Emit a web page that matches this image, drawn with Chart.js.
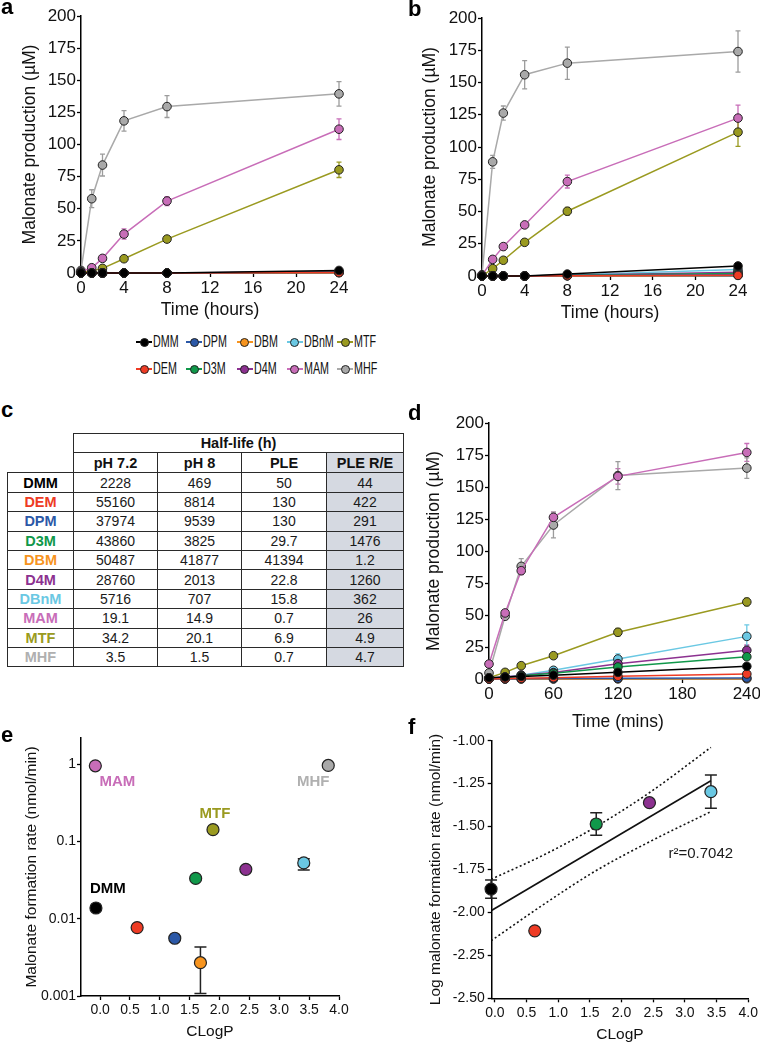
<!DOCTYPE html>
<html><head><meta charset="utf-8">
<script src="https://cdn.jsdelivr.net/npm/chart.js@4.4.1/dist/chart.umd.min.js"></script>
<style>
html,body{margin:0;padding:0;background:#fff;overflow:hidden;width:760px;height:1042px;}
body{position:relative;font-family:'Liberation Sans',Arial,Helvetica,sans-serif;color:#111;}
canvas{position:absolute;}
.lab{position:absolute;font-weight:bold;font-size:22px;line-height:22px;color:#000;}
.item{position:absolute;height:18px;display:flex;align-items:center;}
.mk{position:relative;width:16px;height:18px;flex:none;}
.mk .ln{position:absolute;left:0;right:0;top:8px;height:2px;}
.mk .dot{position:absolute;left:3.5px;top:4.5px;width:7px;height:7px;border:1px solid #222;border-radius:50%;}
.lt{font-size:16px;transform:scaleX(0.67);transform-origin:left center;margin-left:1px;white-space:nowrap;color:#111;}
#tbl{position:absolute;left:7px;top:433px;border-collapse:collapse;table-layout:fixed;font-size:14px;color:#1a1a1a;}
#tbl td{border:1.5px solid #2a2a2a;text-align:center;padding:0;height:18.4px;line-height:16px;}
#tbl td.corner{border-top:none;border-left:none;}
#tbl td.hd{font-weight:bold;font-size:14.5px;color:#111;}
#tbl td.rl{font-weight:bold;font-size:14.5px;}
#tbl td.sh{background:#d5d9e1;}
</style>
</head><body>
<canvas id="cA" width="380" height="330" style="left:0;top:0"></canvas>
<canvas id="cB" width="380" height="330" style="left:380px;top:0"></canvas>
<canvas id="cD" width="342" height="335" style="left:420px;top:400px"></canvas>
<canvas id="cE" width="380" height="342" style="left:0;top:700px"></canvas>
<canvas id="cF" width="380" height="342" style="left:380px;top:700px"></canvas>
<div class="lab" style="left:1px;top:-4px">a</div>
<div class="lab" style="left:408px;top:-2px">b</div>
<div class="lab" style="left:1px;top:399px">c</div>
<div class="lab" style="left:408px;top:402px">d</div>
<div class="lab" style="left:1px;top:724px">e</div>
<div class="lab" style="left:408px;top:716px">f</div>
<div id="legend"></div>
<table id="tbl"></table>
<script>
// ---------- DATA ----------
const names  = ['DMM','DEM','DPM','D3M','DBM','D4M','DBnM','MAM','MTF','MHF'];
const colors = ['#000000','#ee3b24','#2b58a7','#10984a','#f7941e','#8c3190','#6ac8e3','#c86db8','#9a9a20','#a9a9a9'];
const legendRow1 = ['DMM','DPM','DBM','DBnM','MTF'];
const legendRow2 = ['DEM','D3M','D4M','MAM','MHF'];

// Panel a (hours)
const timesH = [0,1,2,4,8,24];
const xTicksH = [0,4,8,12,16,20,24];
const yTicksConc = [0,25,50,75,100,125,150,175,200];
const a_DMM  = [0,0,0,0,0,2];
const a_DEM  = [0,0,0,0,0,0.3];
const a_DPM  = [0,0,0,0,0,0.5];
const a_D3M  = [0,0,0,0,0,0.5];
const a_DBM  = [0,0,0,0,0,0.3];
const a_D4M  = [0,0,0,0,0,1];
const a_DBnM = [0,0,0,0,0,0.8];
const a_MAM  = [1,4.1,11.4,30.3,56,111.9];
const a_MTF  = [0.5,1.5,3.6,11.1,26.4,80.3];
const a_MHF  = [2,57.8,84,118.4,129.5,139.4];
const a_MAM_err = [0,1,1.5,4,3.5,8];
const a_MTF_err = [0,0.5,0.5,1,1.5,6];
const a_MHF_err = [0,7,8.5,8,8.5,9.5];

// Panel b (hours)
const b_DMM  = [0,0,0,0,1.5,7.8];
const b_DEM  = [0,0,0,0,0.2,0.5];
const b_DPM  = [0,0,0,0,0.3,1];
const b_D3M  = [0,0,0,0,0.5,2];
const b_DBM  = [0,0,0,0,0.2,0.5];
const b_D4M  = [0,0,0,0,0.5,3];
const b_DBnM = [0,0,0,0,0.8,5];
const b_MAM  = [0.5,12.9,22.8,39.6,73.2,122.4];
const b_MTF  = [0,5.7,12.2,26.1,50.2,111.5];
const b_MHF  = [1,88.5,126.3,156,165,174];
const b_MAM_err = [0,1,1.5,2,5,10];
const b_MTF_err = [0,1,1,1.5,3,11];
const b_MHF_err = [0,5,5.5,11,12.5,16];

// Panel d (minutes)
const timesM = [0,15,30,60,120,240];
const xTicksM = [0,60,120,180,240];
const d_DMM  = [1,1.5,2,3,5.2,9.9];
const d_DEM  = [0,0.3,0.5,1,2.1,3.9];
const d_DPM  = [0,0,0.2,0.3,0.5,0.8];
const d_D3M  = [0.3,1.2,2.5,4.5,9.4,17.4];
const d_DBM  = [0,0,0,0,0.1,0.2];
const d_D4M  = [0.5,1.5,3,5,12,22.4];
const d_DBnM = [0.5,1.5,3,6.8,15.6,33.3];
const d_MAM  = [11.7,51.6,84.6,126.3,158.3,177];
const d_MTF  = [1,5.2,10.4,18.2,36.5,60.2];
const d_MHF  = [4.7,49,88,120.3,158.9,164.8];
const d_MAM_err  = [1,2,3,4,6,7];
const d_MHF_err  = [1,2,6,10,11,8];
const d_MTF_err  = [0.5,1,1,1,3,3];
const d_DBnM_err = [0,0.5,0.5,1,4,9];
const d_D4M_err  = [0,0,0,1,2,4];
const d_D3M_err  = [0,0,0,0.5,1,1.5];

// Table c
const tblNames = ['DMM','DEM','DPM','D3M','DBM','D4M','DBnM','MAM','MTF','MHF'];
const tblPh72  = ['2228','55160','37974','43860','50487','28760','5716','19.1','34.2','3.5'];
const tblPh8   = ['469','8814','9539','3825','41877','2013','707','14.9','20.1','1.5'];
const tblPLE   = ['50','130','130','29.7','41394','22.8','15.8','0.7','6.9','0.7'];
const tblPLERE = ['44','422','291','1476','1.2','1260','362','26','4.9','4.7'];
const tblHeads = ['pH 7.2','pH 8','PLE','PLE R/E'];

// Panel e
const eNames = ['DMM','DEM','DPM','D3M','DBM','D4M','DBnM','MAM','MTF','MHF'];
const eClogP = [-0.07,0.62,1.25,1.60,1.68,2.44,3.41,-0.08,1.89,3.82];
const eRate  = [0.0138,0.0077,0.0056,0.0334,0.0027,0.0437,0.053,0.96,0.143,0.97];
const eErrLo = [null,null,null,null,0.00108,null,0.043,null,null,null];
const eErrHi = [null,null,null,null,0.0043,null,0.060,null,null,null];
const eLabelNames = ['MAM','MTF','MHF','DMM'];
const eYTicks = [0.001,0.01,0.1,1];
const eYTickLabels = ['0.001','0.01','0.1','1'];
const clogpTicks = [0,0.5,1,1.5,2,2.5,3,3.5,4];

// Panel f
const fNames = ['DMM','DEM','D3M','D4M','DBnM'];
const fClogP = [-0.06,0.63,1.60,2.44,3.41];
const fLogRate = [-1.864,-2.107,-1.485,-1.361,-1.297];
const fErr = [0.053,0,0.066,0,0.097];
const fitX = [-0.06,3.41];
const fitY = [-1.99,-1.233];
const bandX = [-0.06,0.8,1.6,2.45,3.41];
const bandUpper = [-1.807,-1.66,-1.50,-1.30,-1.039];
const bandLower = [-2.165,-1.946,-1.756,-1.587,-1.413];
const fYTicks = [-2.5,-2.25,-2.0,-1.75,-1.5,-1.25,-1.0];
const r2Text = 'r\u00B2=0.7042';

// ---------- STYLE / BUILD ----------
const FONT = "'Liberation Sans', Arial, Helvetica, sans-serif";
Chart.defaults.font.family = FONT;
Chart.defaults.color = '#111';
const col = n => colors[names.indexOf(n)];

const seriesA = {DMM:a_DMM,DEM:a_DEM,DPM:a_DPM,D3M:a_D3M,DBM:a_DBM,D4M:a_D4M,DBnM:a_DBnM,MAM:a_MAM,MTF:a_MTF,MHF:a_MHF};
const errA = {MAM:a_MAM_err,MTF:a_MTF_err,MHF:a_MHF_err};
const seriesB = {DMM:b_DMM,DEM:b_DEM,DPM:b_DPM,D3M:b_D3M,DBM:b_DBM,D4M:b_D4M,DBnM:b_DBnM,MAM:b_MAM,MTF:b_MTF,MHF:b_MHF};
const errB = {MAM:b_MAM_err,MTF:b_MTF_err,MHF:b_MHF_err};
const seriesD = {DMM:d_DMM,DEM:d_DEM,DPM:d_DPM,D3M:d_D3M,DBM:d_DBM,D4M:d_D4M,DBnM:d_DBnM,MAM:d_MAM,MTF:d_MTF,MHF:d_MHF};
const errD = {MAM:d_MAM_err,MHF:d_MHF_err,MTF:d_MTF_err,DBnM:d_DBnM_err,D4M:d_D4M_err,D3M:d_D3M_err};

const errorBars = {
  id:'errorBars',
  beforeDatasetsDraw(chart){
    const ctx = chart.ctx;
    chart.data.datasets.forEach((ds,i)=>{
      if(!ds.err && !ds.errLo) return;
      const meta = chart.getDatasetMeta(i);
      const ys = chart.scales[meta.yAxisID];
      ctx.save();
      ctx.strokeStyle = ds.errColor || ds.borderColor;
      ctx.lineWidth = ds.errWidth || 1.3;
      meta.data.forEach((pt,j)=>{
        const y = ds.data[j].y;
        let lo, hi;
        if(ds.err){ const e = ds.err[j]; if(!e) return; lo = y-e; hi = y+e; }
        else { lo = ds.errLo[j]; hi = ds.errHi[j]; if(lo==null) return; }
        const x = pt.x, y1 = ys.getPixelForValue(hi), y2 = ys.getPixelForValue(lo);
        const cw = ds.capW || 2.5;
        ctx.beginPath();
        ctx.moveTo(x,y1); ctx.lineTo(x,y2);
        ctx.moveTo(x-cw,y1); ctx.lineTo(x+cw,y1);
        ctx.moveTo(x-cw,y2); ctx.lineTo(x+cw,y2);
        ctx.stroke();
      });
      ctx.restore();
    });
  }
};

function setTicks(arr){ return s => { s.ticks = arr.map(v=>({value:v})); }; }

function axis(o){
  return {
    type: o.type || 'linear', min:o.min, max:o.max, position:o.position,
    afterBuildTicks: setTicks(o.ticks),
    afterFit: s => { if(o.position==='left') s.width = o.box; else s.height = o.box; },
    grid:{display:true, drawOnChartArea:false, drawTicks:true, tickLength:4, color:'#000', tickColor:'#000', tickWidth:1.3},
    border:{display:true, color:'#000', width:1.5},
    ticks:{font:{size:o.tickSize}, color:'#111', padding:o.tickPad, maxRotation:0, autoSkip:false,
      callback: o.fmt || (v=>String(v))},
    title:{display:true, text:o.title, color:'#111', font:{size:o.titleSize, lineHeight:o.titleLH||1.2},
      padding: o.position==='left' ? {top:o.titlePad, bottom:0} : {top:0, bottom:o.titlePad}}
  };
}

function timeDatasets(times, series, errs){
  return names.map(n => ({
    label:n,
    data: times.map((t,k)=>({x:t, y:series[n][k]})),
    err: errs[n] || null,
    borderColor: col(n), backgroundColor: col(n),
    errColor: n==='MHF' ? '#9c9c9c' : col(n),
    pointBackgroundColor: col(n), pointBorderColor:'#222', pointBorderWidth:1,
    pointRadius:4.3, borderWidth:1.5, tension:0, clip:false
  }));
}

function timeChart(id, times, series, errs, lay){
  new Chart(document.getElementById(id), {
    type:'line',
    data:{datasets: timeDatasets(times, series, errs)},
    options:{
      responsive:false, animation:false, devicePixelRatio:1, events:[],
      layout:{padding:{top:lay.top, right:lay.right, left:0, bottom:0}},
      plugins:{legend:{display:false}, tooltip:{enabled:false}},
      scales:{
        x: axis({position:'bottom', min:0, max:lay.xmax, ticks:lay.xticks, box:lay.xbox, tickSize:17, tickPad:1,
                 title:lay.xtitle, titleSize:17.5, titlePad:lay.xtp}),
        y: axis({position:'left', min:0, max:200, ticks:yTicksConc, box:lay.ybox, tickSize:17, tickPad:1,
                 title:'Malonate production (\u00B5M)', titleSize:17.5, titlePad:lay.ytp})
      }
    },
    plugins:[errorBars]
  });
}

timeChart('cA', timesH, seriesA, errA, {top:16, right:41, xmax:24, xticks:xTicksH, xbox:57, ybox:81, xtitle:'Time (hours)', xtp:9.5, ytp:19.5});
timeChart('cB', timesH, seriesB, errB, {top:18, right:22, xmax:24, xticks:xTicksH, xbox:54, ybox:102, xtitle:'Time (hours)', xtp:6.5, ytp:40});
timeChart('cD', timesM, seriesD, errD, {top:23, right:15, xmax:240, xticks:xTicksM, xbox:56, ybox:69, xtitle:'Time (mins)', xtp:2.8, ytp:3.5});

// Panel e
const eLabelStyle = {MAM:[22,16], MTF:[2,-16], MHF:[-15,16], DMM:[12,-19]};
const eLabels = {
  id:'eLabels',
  afterDatasetsDraw(chart){
    const ctx = chart.ctx, meta = chart.getDatasetMeta(0);
    ctx.save();
    ctx.font = 'bold 15px ' + FONT; ctx.textAlign='center'; ctx.textBaseline='middle';
    eLabelNames.forEach(n=>{
      const i = eNames.indexOf(n), pt = meta.data[i], off = eLabelStyle[n];
      ctx.fillStyle = n==='MHF' ? '#b0b0b0' : col(n);
      ctx.fillText(n, pt.x+off[0], pt.y+off[1]);
    });
    ctx.restore();
  }
};
new Chart(document.getElementById('cE'), {
  type:'scatter',
  data:{datasets:[{
    data: eClogP.map((x,i)=>({x, y:eRate[i]})),
    errLo:eErrLo, errHi:eErrHi, errColor:'#222', errWidth:1.5, capW:6,
    pointBackgroundColor: eNames.map(col), pointBorderColor:'#222', pointBorderWidth:1.2,
    pointRadius:6, clip:false
  }]},
  options:{
    responsive:false, animation:false, devicePixelRatio:1, events:[],
    layout:{padding:{top:38, right:41, left:0, bottom:0}},
    plugins:{legend:{display:false}, tooltip:{enabled:false}},
    scales:{
      x: axis({position:'bottom', min:-0.32, max:4, ticks:clogpTicks, box:46, tickSize:14, tickPad:2,
               title:'CLogP', titleSize:15.5, titleLH:1, titlePad:2.2, fmt:v=>v.toFixed(1)}),
      y: axis({type:'logarithmic', position:'left', min:0.001, max:2.2, ticks:eYTicks, box:81, tickSize:14, tickPad:1,
               title:'Malonate formation rate (nmol/min)', titleSize:15.5, titleLH:1, titlePad:24.2,
               fmt:v=>eYTickLabels[eYTicks.indexOf(v)]})
    }
  },
  plugins:[errorBars, eLabels]
});

// Panel f
const r2Plugin = {
  id:'r2',
  afterDatasetsDraw(chart){
    const ctx = chart.ctx, xs = chart.scales.x, ys = chart.scales.y;
    ctx.save(); ctx.font = '15px ' + FONT; ctx.fillStyle='#1a1a1a';
    ctx.textAlign='center'; ctx.textBaseline='middle';
    ctx.fillText(r2Text, xs.getPixelForValue(3.25), ys.getPixelForValue(-1.66));
    ctx.restore();
  }
};
new Chart(document.getElementById('cF'), {
  type:'scatter',
  data:{datasets:[
    { data: fClogP.map((x,i)=>({x, y:fLogRate[i]})), err:fErr, errColor:'#222', errWidth:1.5, capW:6,
      pointBackgroundColor: fNames.map(col), pointBorderColor:'#222', pointBorderWidth:1.2, pointRadius:6, clip:false },
    { data: fitX.map((x,i)=>({x, y:fitY[i]})), showLine:true, borderColor:'#111', borderWidth:1.6, pointRadius:0 },
    { data: bandX.map((x,i)=>({x, y:bandUpper[i]})), showLine:true, borderColor:'#111', borderWidth:1.6,
      borderDash:[2,2.5], pointRadius:0, cubicInterpolationMode:'monotone' },
    { data: bandX.map((x,i)=>({x, y:bandLower[i]})), showLine:true, borderColor:'#111', borderWidth:1.6,
      borderDash:[2,2.5], pointRadius:0, cubicInterpolationMode:'monotone' }
  ]},
  options:{
    responsive:false, animation:false, devicePixelRatio:1, events:[],
    layout:{padding:{top:40.7, right:11.7, left:0, bottom:0}},
    plugins:{legend:{display:false}, tooltip:{enabled:false}},
    scales:{
      x: axis({position:'bottom', min:-0.05, max:4, ticks:clogpTicks, box:43.7, tickSize:14, tickPad:2,
               title:'CLogP', titleSize:15.5, titleLH:1, titlePad:0, fmt:v=>v.toFixed(1)}),
      y: axis({position:'left', min:-2.5, max:-1.0, ticks:fYTicks, box:111.7, tickSize:14, tickPad:3,
               title:'Log malonate formation rate (nmol/min)', titleSize:15.5, titleLH:1, titlePad:48.2,
               fmt:v=>v.toFixed(2)})
    }
  },
  plugins:[errorBars, r2Plugin]
});

// Legend
const leg = document.getElementById('legend');
[[legendRow1,333],[legendRow2,360]].forEach(([row,top])=>{
  row.forEach((n,k)=>{
    const d = document.createElement('div');
    d.className='item';
    d.style.left = (136 + k*50.3) + 'px';
    d.style.top = top + 'px';
    d.innerHTML = '<div class="mk"><div class="ln" style="background:'+col(n)+'"></div><div class="dot" style="background:'+col(n)+'"></div></div><span class="lt">'+n+'</span>';
    leg.appendChild(d);
  });
});

// Table
const tbl = document.getElementById('tbl');
const widths = [66,84,84,85,77];
let html = '<colgroup>' + widths.map(w=>'<col style="width:'+w+'px">').join('') + '</colgroup>';
html += '<tr style="height:19px"><td class="corner" rowspan="2"></td><td class="hd" colspan="4">Half-life (h)</td></tr>';
html += '<tr style="height:20px">' + tblHeads.map((h,i)=>'<td class="hd'+(i===3?' sh':'')+'">'+h+'</td>').join('') + '</tr>';
tblNames.forEach((n,i)=>{
  const c = n==='MHF' ? '#b0b0b0' : col(n);
  html += '<tr><td class="rl" style="color:'+c+'">'+n+'</td><td>'+tblPh72[i]+'</td><td>'+tblPh8[i]+'</td><td>'+tblPLE[i]+'</td><td class="sh">'+tblPLERE[i]+'</td></tr>';
});
tbl.innerHTML = html;
</script>
</body></html>
